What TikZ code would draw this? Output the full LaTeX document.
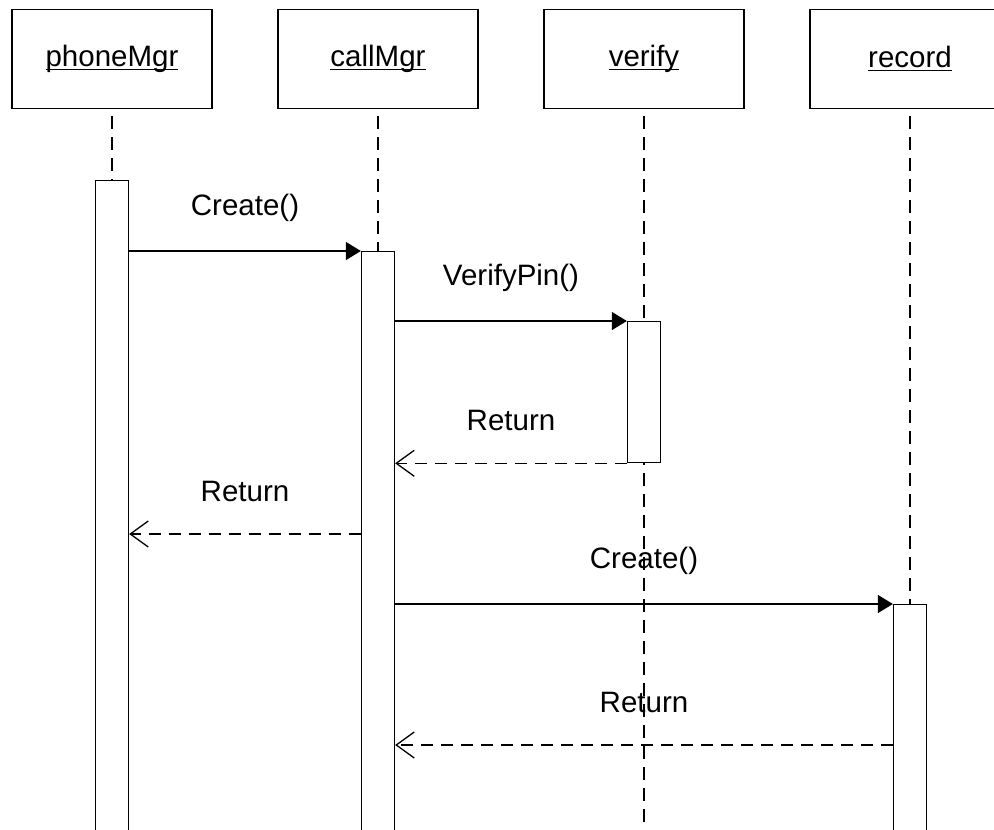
\documentclass[tikz,border=0pt]{standalone}
\usepackage{fontspec}
\setmainfont{Liberation Sans}
\usetikzlibrary{arrows.meta,calc}

% object names are underlined just below the baseline
\newsavebox\objtext
\newcommand\objname[1]{\sbox\objtext{#1}\rlap{\rule[-3.5pt]{\wd\objtext}{1.3pt}}\usebox\objtext}

\begin{document}
\begin{tikzpicture}[x=1pt,y=-1pt,line width=1.3pt,
  txt/.style={font=\fontsize{29.5}{34}\selectfont},
  objbox/.style={draw,txt,minimum width=200pt,minimum height=99pt,inner sep=0pt},
  bar/.style={draw,fill=white,minimum width=33pt,inner sep=0pt,anchor=north},
  lifeline/.style={dash pattern=on 13pt off 8pt},
  call/.style={-{Triangle[length=15pt,width=18pt]}},
  reply/.style={dash pattern=on 12pt off 8pt,-{Straight Barb[length=18pt,width=26pt]}},
  msglabel/.style={txt,midway,yshift=43pt}]

\useasboundingbox (0,0) rectangle (994,830);
\clip (0,0) rectangle (994,830);

% objects
\node[objbox] (phone)  at (112,59) {\objname{phoneMgr}};
\node[objbox] (call)   at (378,59) {\objname{callMgr}};
\node[objbox] (verify) at (644,59) {\objname{verify}};
\node[objbox] (record) at (910,59) {\objname{record}};

% lifelines
\foreach \o in {phone,call,verify,record}
  \draw[lifeline] ($(\o.south)+(0,7)$) -- (\o.south |- 0,840);

% activation bars
\node[bar,minimum height=670pt] (phonebar)  at (112,180) {};
\node[bar,minimum height=600pt] (callbar)   at (378,251) {};
\node[bar,minimum height=141pt] (verifybar) at (644,321) {};
\node[bar,minimum height=240pt] (recordbar) at (910,604) {};

% messages
\draw[call] (phonebar.east |- callbar.north) -- (callbar.north west)
  node[msglabel] {Create()};
\draw[call] (callbar.east |- verifybar.north) -- (verifybar.north west)
  node[msglabel] {VerifyPin()};
\draw[reply] (verifybar.south west) -- (callbar.east |- verifybar.south west)
  node[msglabel] {Return};
\draw[reply] (callbar.west |- 0,534) -- (phonebar.east |- 0,534)
  node[msglabel] {Return};
\draw[call] (callbar.east |- recordbar.north) -- (recordbar.north west)
  node[msglabel] {Create()};
\draw[reply] (recordbar.west |- 0,745) -- (callbar.east |- 0,745)
  node[msglabel] {Return};
\end{tikzpicture}
\end{document}
